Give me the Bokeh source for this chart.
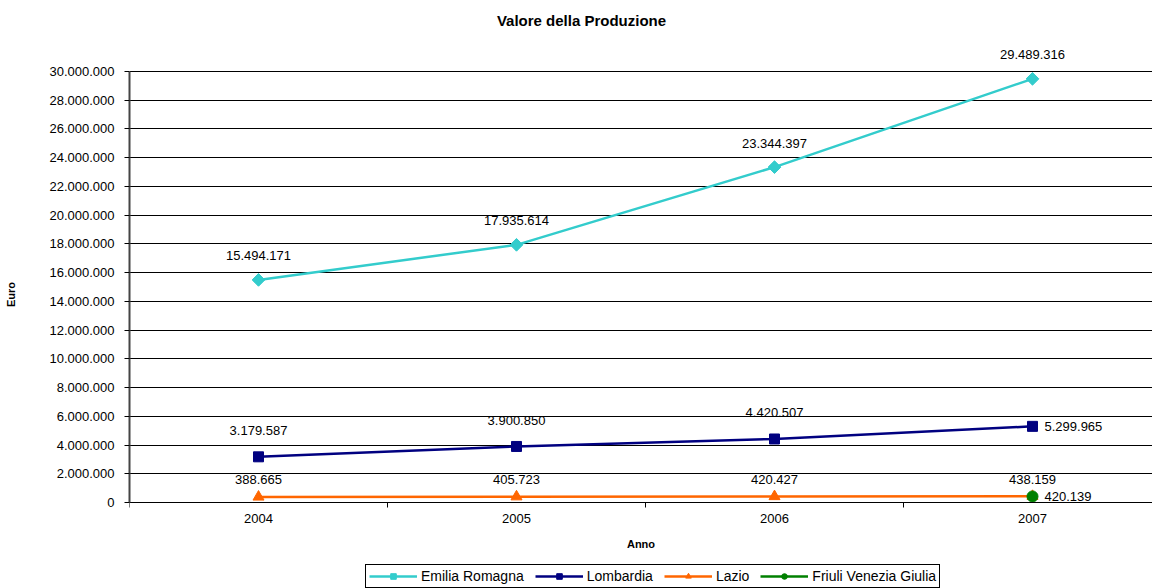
import math
from bokeh.plotting import figure
from bokeh.models import Range1d, FixedTicker, Legend, LegendItem, Label
from bokeh.embed import file_html
from bokeh.resources import INLINE
from bokeh.core.properties import value

# ---- data ----
years = ["2004", "2005", "2006", "2007"]
emilia = [15494171, 17935614, 23344397, 29489316]
lombardia = [3179587, 3900850, 4420507, 5299965]
lazio = [388665, 405723, 420427, 438159]
friuli_years = ["2007"]
friuli = [420139]
y_ticks = list(range(0, 30000001, 2000000))
title_text = "Valore della Produzione"


def fmt(v):
    return f"{v:,}".replace(",", ".")


FONT = "Liberation Sans"
xs = list(range(len(years)))
fx = [years.index(y) for y in friuli_years]

# layout (pixels)
W, H = 1152, 588
LEFT, TOP, AX_BOTTOM = 129, 71, 502
ymax = y_ticks[-1]
px_per_unit = (AX_BOTTOM - TOP) / ymax
y_lo = -(H - AX_BOTTOM) / px_per_unit
y_hi = ymax + TOP / px_per_unit
cat_w = 258
x_hi = -0.5 + (W - LEFT) / cat_w

p = figure(width=W, height=H, output_backend="svg", toolbar_location=None,
           x_range=Range1d(-0.5, x_hi), y_range=Range1d(y_lo, y_hi),
           min_border_left=LEFT, min_border_right=0, min_border_top=0,
           min_border_bottom=0)
p.outline_line_color = None
p.background_fill_color = "white"
p.border_fill_color = "white"

# grid
p.xgrid.grid_line_color = None
p.ygrid.ticker = FixedTicker(ticks=y_ticks)
p.ygrid.grid_line_color = "black"
p.ygrid.grid_line_width = 1

# y axis
p.yaxis.ticker = FixedTicker(ticks=y_ticks)
p.yaxis.bounds = (0, ymax)
p.yaxis.major_label_overrides = {v: fmt(v) for v in y_ticks}
p.yaxis.major_label_text_font = FONT
p.yaxis.major_label_text_font_size = "13px"
p.yaxis.major_label_text_color = "black"
p.yaxis.major_tick_in = 0
p.yaxis.major_tick_out = 5
p.yaxis.major_tick_line_color = "black"
p.yaxis.minor_tick_line_color = None
p.yaxis.axis_line_color = "#444444"
p.yaxis.axis_line_width = 2
p.yaxis.major_label_standoff = 10
p.yaxis.axis_label = "Euro"
p.yaxis.axis_label_text_font = FONT
p.yaxis.axis_label_text_font_size = "11px"
p.yaxis.axis_label_text_font_style = "bold"
p.yaxis.axis_label_text_color = "black"
p.yaxis.axis_label_standoff = 29

# x axis, drawn at y = 0 inside the frame
p.xaxis.fixed_location = 0
p.xaxis.ticker = FixedTicker(ticks=xs, minor_ticks=[-0.5, 0.5, 1.5, 2.5, 3.5])
p.xaxis.major_label_overrides = {i: y for i, y in zip(xs, years)}
p.xaxis.major_label_text_font = FONT
p.xaxis.major_label_text_font_size = "13px"
p.xaxis.major_label_text_color = "black"
p.xaxis.major_tick_line_color = None
p.xaxis.major_tick_in = 0
p.xaxis.major_tick_out = 0
p.xaxis.minor_tick_line_color = "black"
p.xaxis.minor_tick_in = 0
p.xaxis.minor_tick_out = 5
p.xaxis.axis_line_color = "black"
p.xaxis.major_label_standoff = 6
p.xaxis.axis_label = "Anno"
p.xaxis.axis_label_text_font = FONT
p.xaxis.axis_label_text_font_size = "11px"
p.xaxis.axis_label_text_font_style = "bold"
p.xaxis.axis_label_text_color = "black"
p.xaxis.axis_label_standoff = 12

# title (inside the frame, in screen units)
p.add_layout(Label(x=581 - LEFT, y=H - 20, x_units="screen", y_units="screen",
                   text=title_text, text_align="center", text_baseline="middle",
                   text_font=FONT, text_font_size="15px", text_font_style="bold",
                   text_color="black"))

# series
C_EM, C_LO, C_LA, C_FR = "#33CCCC", "#000080", "#FF6600", "#008000"

l1 = p.line(xs, emilia, line_color=C_EM, line_width=2.5)
s1 = p.scatter(xs, emilia, marker="square", angle=math.pi / 4, size=9,
               fill_color=C_EM, line_color=C_EM)
l2 = p.line(xs, lombardia, line_color=C_LO, line_width=2.5)
s2 = p.scatter(xs, lombardia, marker="square", size=10, fill_color=C_LO, line_color=C_LO)
l3 = p.line(xs, lazio, line_color=C_LA, line_width=2.5)
s3 = p.scatter(xs, lazio, marker="triangle", size=11, fill_color=C_LA, line_color=C_LA)
l4 = p.line(fx, friuli, line_color=C_FR, line_width=2.5)
s4 = p.scatter(fx, friuli, marker="circle", size=11, fill_color=C_FR, line_color=C_FR)

# data labels
tk = dict(text_font=value(FONT), text_font_size="13px", text_color="black")
p.text(xs, emilia, text=[fmt(v) for v in emilia], text_align="center",
       text_baseline="middle", y_offset=-24, **tk)
p.text(xs[:-1], lombardia[:-1], text=[fmt(v) for v in lombardia[:-1]], text_align="center",
       text_baseline="middle", y_offset=-26, **tk)
p.text(xs[-1:], lombardia[-1:], text=[fmt(v) for v in lombardia[-1:]], text_align="left",
       text_baseline="middle", x_offset=12, **tk)
p.text(xs, lazio, text=[fmt(v) for v in lazio], text_align="center",
       text_baseline="middle", y_offset=-17, **tk)
p.text(fx, friuli, text=[fmt(v) for v in friuli], text_align="left",
       text_baseline="middle", x_offset=12, **tk)

legend = Legend(items=[
    LegendItem(label="Emilia Romagna", renderers=[l1, s1]),
    LegendItem(label="Lombardia", renderers=[l2, s2]),
    LegendItem(label="Lazio", renderers=[l3, s3]),
    LegendItem(label="Friuli Venezia Giulia", renderers=[l4, s4]),
], orientation="horizontal", location=(365 - LEFT, 0))
legend.label_text_font = FONT
legend.label_text_font_size = "14px"
legend.label_text_color = "black"
legend.glyph_width = 48
legend.glyph_height = 14
legend.label_standoff = 4
legend.spacing = 11
legend.padding = 3
legend.margin = 0
legend.border_line_color = "black"
legend.border_line_width = 1
legend.border_line_alpha = 1
legend.background_fill_alpha = 1
legend.label_height = 14
p.add_layout(legend, "center")

open("out.html", "w").write(file_html(p, INLINE))
